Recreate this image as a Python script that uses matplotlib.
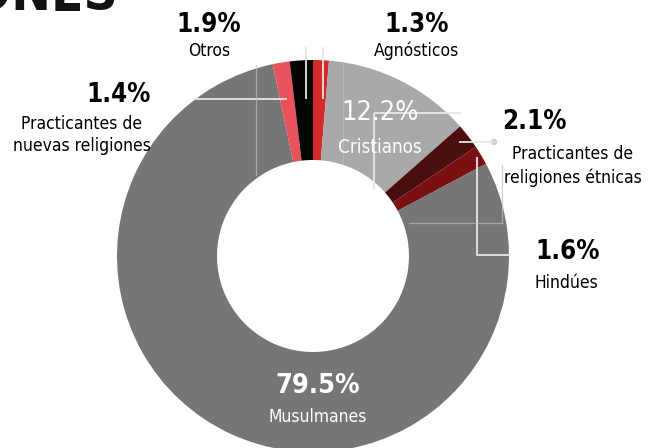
import matplotlib
matplotlib.use('Agg')
import matplotlib.pyplot as plt
from matplotlib.patches import Circle

W, H = 648, 448

labels = ['Agnósticos', 'Cristianos', 'Practicantes de\nreligiones étnicas', 'Hindúes',
          'Musulmanes', 'Practicantes de\nnuevas religiones', 'Otros']
values = [1.3, 12.2, 2.1, 1.6, 79.5, 1.4, 1.9]
pct_labels = ['1.3%', '12.2%', '2.1%', '1.6%', '79.5%', '1.4%', '1.9%']
colors = ['#d42a2a', '#a9a9a9', '#4a0e0f', '#7a1012', '#767676', '#e9525a', '#050505']

plt.rcParams['font.family'] = ['DejaVu Sans']
plt.rcParams['font.stretch'] = 'condensed'

fig = plt.figure(figsize=(W / 100, H / 100), dpi=100)
ax = fig.add_axes([0, 0, 1, 1])
ax.set_aspect('equal')
ax.axis('off')


def py(y):
    # pixel row (top-down) -> data y
    return H - y


cx, cy = 313, 256
R, r = 196, 96
ax.pie(values, colors=colors, startangle=90, counterclock=False,
       center=(cx, py(cy)), radius=R,
       wedgeprops=dict(width=R - r, linewidth=0))
ax.set_xlim(0, W)
ax.set_ylim(0, H)

# leader lines
lc = '#e6e6e6'
lines = [
    ([194, 287], [99, 99]),
    ([306, 306], [47, 99]),
    ([323, 323], [47, 99]),
    ([374, 461], [113, 113]),
    ([374, 374], [113, 190]),
    ([459, 494], [142, 142]),
    ([477, 477, 510], [157, 255, 255]),
]
for xs, ys in lines:
    ax.plot(xs, [py(v) for v in ys], color=lc, lw=1.3, solid_capstyle='butt')
# faint lines left over in the source picture
for xs, ys in [([343, 343], [62, 163]), ([256, 256], [65, 175]),
               ([409, 502], [223, 223]), ([502, 502], [165, 223])]:
    ax.plot(xs, [py(v) for v in ys], color='#bdbdbd', lw=0.9, alpha=0.7)
ax.add_patch(Circle((494, py(142)), 3.2, color='#d0d0d0', lw=0))

# title (cut off at the top)
ax.text(118, py(10), 'RELIGIONES', ha='right', va='baseline', fontsize=38,
        fontweight='bold', color='#111111')

big = 18.5
small = 12.5
# Otros
ax.text(209, py(25), pct_labels[6], ha='center', va='center', fontsize=big, fontweight='bold')
ax.text(209, py(51), labels[6], ha='center', va='center', fontsize=small)
# Agnosticos
ax.text(417, py(25), pct_labels[0], ha='center', va='center', fontsize=big, fontweight='bold')
ax.text(417, py(51), labels[0], ha='center', va='center', fontsize=small)
# nuevas religiones
ax.text(151, py(95), pct_labels[5], ha='right', va='center', fontsize=big, fontweight='bold')
ax.text(82, py(135), labels[5], ha='center', va='center', fontsize=small, linespacing=1.35)
# Cristianos
ax.text(380, py(113), pct_labels[1], ha='center', va='center', fontsize=big + 1, color='white')
ax.text(380, py(147), labels[1], ha='center', va='center', fontsize=small + 1, color='white')
# etnicas
ax.text(534, py(122), pct_labels[2], ha='center', va='center', fontsize=big, fontweight='bold')
ax.text(573, py(166), labels[2], ha='center', va='center', fontsize=small, linespacing=1.35)
# Hindues
ax.text(568, py(252), pct_labels[3], ha='center', va='center', fontsize=big, fontweight='bold')
ax.text(566, py(283), labels[3], ha='center', va='center', fontsize=small)
# Musulmanes
ax.text(318, py(386), pct_labels[4], ha='center', va='center', fontsize=big + 1, fontweight='bold',
        color='white')
ax.text(318, py(417), labels[4], ha='center', va='center', fontsize=small, color='white')

fig.savefig('out.png', dpi=100)
